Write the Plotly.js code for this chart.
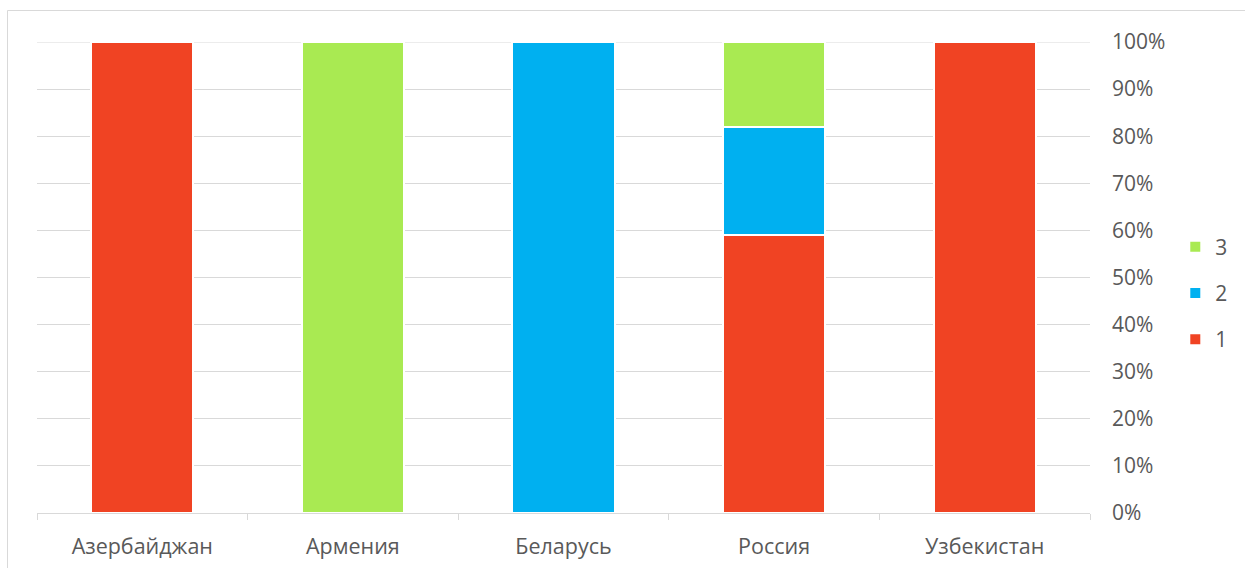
<!DOCTYPE html>
<html>
<head>
<meta charset="utf-8">
<script src="https://cdn.plot.ly/plotly-3.0.1.min.js"></script>
<style>html,body{margin:0;padding:0;background:#fff;}#chart{width:1245px;height:568px;}</style>
</head>
<body>
<div id="chart"></div>
<script>
const categories = ["Азербайджан", "Армения", "Беларусь", "Россия", "Узбекистан"];
const series1 = [100, 0, 0, 59, 100];
const series2 = [0, 0, 100, 23, 0];
const series3 = [0, 100, 0, 18, 0];
const seriesNames = ["1", "2", "3"];
const colors = ["#F04323", "#00B0F0", "#A9EA52"];

const allSeries = [series1, series2, series3];
const traces = allSeries.map((vals, i) => ({
  type: "bar",
  name: seriesNames[i],
  x: categories,
  y: vals,
  legendgroup: "g" + i,
  legendrank: 1000 - i,
  marker: { color: colors[i], line: { color: "#ffffff", width: 2 } },
  hoverinfo: "skip"
}));

const layout = {
  width: 1245,
  height: 568,
  barmode: "stack",
  barnorm: "fraction",
  bargap: 0.515,
  margin: { l: 37, r: 155, t: 42, b: 55, autoexpand: false },
  paper_bgcolor: "#ffffff",
  plot_bgcolor: "#ffffff",
  font: { family: "Open Sans, sans-serif", size: 21, color: "#595959" },
  xaxis: {
    type: "category",
    showline: true,
    linecolor: "#d9d9d9",
    linewidth: 1,
    ticks: "outside",
    tickson: "boundaries",
    ticklen: 6,
    tickcolor: "#d9d9d9",
    showgrid: false,
    ticklabelstandoff: 14,
    tickfont: { size: 21.5, color: "#595959" },
    automargin: false,
    fixedrange: true
  },
  yaxis: {
    side: "right",
    range: [0, 1],
    dtick: 0.1,
    tickformat: ".0%",
    showgrid: true,
    gridcolor: "#d9d9d9",
    gridwidth: 1,
    zeroline: false,
    showline: false,
    ticks: "",
    ticklabelstandoff: 21,
    tickfont: { size: 21, color: "#595959" },
    automargin: false,
    fixedrange: true
  },
  legend: {
    x: 1.081,
    xanchor: "left",
    y: 0.467,
    yanchor: "middle",
    traceorder: "grouped",
    tracegroupgap: 16,
    font: { size: 21, color: "#595959" },
    itemwidth: 30,
    bgcolor: "rgba(0,0,0,0)"
  },
  shapes: [
    {
      type: "line", xref: "paper", yref: "y",
      x0: 0, x1: 1, y0: 1, y1: 1,
      line: { color: "#d9d9d9", width: 1 }, layer: "below"
    },
    {
      type: "rect", xref: "paper", yref: "paper",
      x0: -29.5/1053, x1: 1.3, y0: -0.2, y1: (513-10.5)/471,
      line: { color: "#d9d9d9", width: 1 }, fillcolor: "rgba(0,0,0,0)", layer: "below"
    }
  ],
  showlegend: true
};

Plotly.newPlot("chart", traces, layout, { displayModeBar: false, staticPlot: true });
</script>
</body>
</html>
